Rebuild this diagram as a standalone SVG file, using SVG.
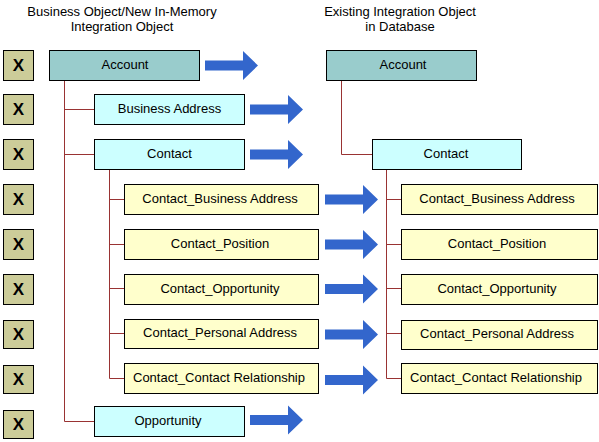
<svg xmlns="http://www.w3.org/2000/svg" width="599" height="442" viewBox="0 0 599 442">
<defs>
<style>
text{font-family:"Liberation Sans",Arial,sans-serif;font-size:13px;fill:#000;text-anchor:middle}
.hdr{font-size:13px}
.x rect{fill:#CCCC99;stroke:#000;stroke-width:1}
.x text{font-size:17px;font-weight:bold}
.acc rect{fill:#99CCCC;stroke:#000}
.cyan rect{fill:#CCFFFF;stroke:#000}
.yel rect{fill:#FFFFCC;stroke:#000}
.tree{fill:none;stroke:#993333;stroke-width:1}
.arr{fill:#3366CC}
</style>
<path id="arrowShape" d="M0,-5 H38 V-14.5 L53,0 L38,14.5 V5 H0 Z"/>
</defs>
<rect width="599" height="442" fill="#fff"/>
<text class="hdr" x="122" y="16">Business Object/New In-Memory</text>
<text class="hdr" x="122" y="31">Integration Object</text>
<text class="hdr" x="400" y="16">Existing Integration Object</text>
<text class="hdr" x="400" y="31">in Database</text>

<g id="x-marks">
<g class="x" id="x1"><rect x="3.5" y="50.5" width="30" height="30"/><text x="18.5" y="71">X</text></g>
<g class="x" id="x2"><rect x="3.5" y="94.5" width="30" height="30"/><text x="18.5" y="115">X</text></g>
<g class="x" id="x3"><rect x="3.5" y="139.5" width="30" height="30"/><text x="18.5" y="160">X</text></g>
<g class="x" id="x4"><rect x="3.5" y="184.5" width="30" height="30"/><text x="18.5" y="205">X</text></g>
<g class="x" id="x5"><rect x="3.5" y="229.5" width="30" height="30"/><text x="18.5" y="250">X</text></g>
<g class="x" id="x6"><rect x="3.5" y="274.5" width="30" height="30"/><text x="18.5" y="295">X</text></g>
<g class="x" id="x7"><rect x="3.5" y="320.5" width="30" height="28"/><text x="18.5" y="340">X</text></g>
<g class="x" id="x8"><rect x="3.5" y="365.5" width="30" height="28"/><text x="18.5" y="385">X</text></g>
<g class="x" id="x9"><rect x="3.5" y="410.5" width="30" height="28"/><text x="18.5" y="430">X</text></g>
</g>

<g id="connectors">
<path class="tree" d="M64.5,80.5 V421.5 H94.5 M64.5,109.5 H94.5 M64.5,154.5 H94.5"/>
<path class="tree" d="M109.5,169.5 V378.5 H124.5 M109.5,199.5 H124.5 M109.5,244.5 H124.5 M109.5,288.5 H124.5 M109.5,333.5 H124.5"/>
<path class="tree" d="M341.5,80.5 V154.5 H372.5"/>
<path class="tree" d="M386.5,169.5 V378.5 H401.5 M386.5,199.5 H401.5 M386.5,244.5 H401.5 M386.5,288.5 H401.5 M386.5,333.5 H401.5"/>
<use class="arr" href="#arrowShape" x="205" y="65.5"/>
<use class="arr" href="#arrowShape" x="250" y="109.5"/>
<use class="arr" href="#arrowShape" x="250" y="154.5"/>
<use class="arr" href="#arrowShape" x="325" y="199.5"/>
<use class="arr" href="#arrowShape" x="325" y="244.5"/>
<use class="arr" href="#arrowShape" x="325" y="289"/>
<use class="arr" href="#arrowShape" x="325" y="334.5"/>
<use class="arr" href="#arrowShape" x="325" y="380"/>
<use class="arr" href="#arrowShape" x="250" y="420"/>
</g>

<g class="acc" id="account-left"><rect x="49.5" y="50.5" width="150" height="30"/><text x="125" y="69">Account</text></g>
<g class="cyan" id="business-address-left"><rect x="94.5" y="94.5" width="150" height="30"/><text x="169.5" y="113">Business Address</text></g>
<g class="cyan" id="contact-left"><rect x="94.5" y="139.5" width="150" height="30"/><text x="169.5" y="158">Contact</text></g>
<g class="yel" id="cba-left"><rect x="124.5" y="184.5" width="194" height="30"/><text x="220" y="203">Contact_Business Address</text></g>
<g class="yel" id="cpos-left"><rect x="124.5" y="229.5" width="194" height="30"/><text x="220" y="248">Contact_Position</text></g>
<g class="yel" id="copp-left"><rect x="124.5" y="274.5" width="194" height="30"/><text x="220" y="293">Contact_Opportunity</text></g>
<g class="yel" id="cpa-left"><rect x="124.5" y="319.5" width="194" height="29"/><text x="220" y="337">Contact_Personal Address</text></g>
<g class="yel" id="ccr-left"><rect x="124.5" y="363.5" width="194" height="30"/><text x="219" y="382">Contact_Contact Relationship</text></g>
<g class="cyan" id="opportunity-left"><rect x="94.5" y="406.5" width="150" height="30"/><text x="168" y="425">Opportunity</text></g>

<g class="acc" id="account-right"><rect x="326.5" y="50.5" width="150" height="30"/><text x="403" y="69">Account</text></g>
<g class="cyan" id="contact-right"><rect x="372.5" y="139.5" width="149" height="30"/><text x="446" y="158">Contact</text></g>
<g class="yel" id="cba-right"><rect x="401.5" y="184.5" width="196" height="30"/><text x="497" y="203">Contact_Business Address</text></g>
<g class="yel" id="cpos-right"><rect x="401.5" y="229.5" width="196" height="30"/><text x="497" y="248">Contact_Position</text></g>
<g class="yel" id="copp-right"><rect x="401.5" y="274.5" width="196" height="30"/><text x="497" y="293">Contact_Opportunity</text></g>
<g class="yel" id="cpa-right"><rect x="401.5" y="320.5" width="196" height="29"/><text x="497" y="338">Contact_Personal Address</text></g>
<g class="yel" id="ccr-right"><rect x="401.5" y="363.5" width="196" height="30"/><text x="496" y="382">Contact_Contact Relationship</text></g>
</svg>
